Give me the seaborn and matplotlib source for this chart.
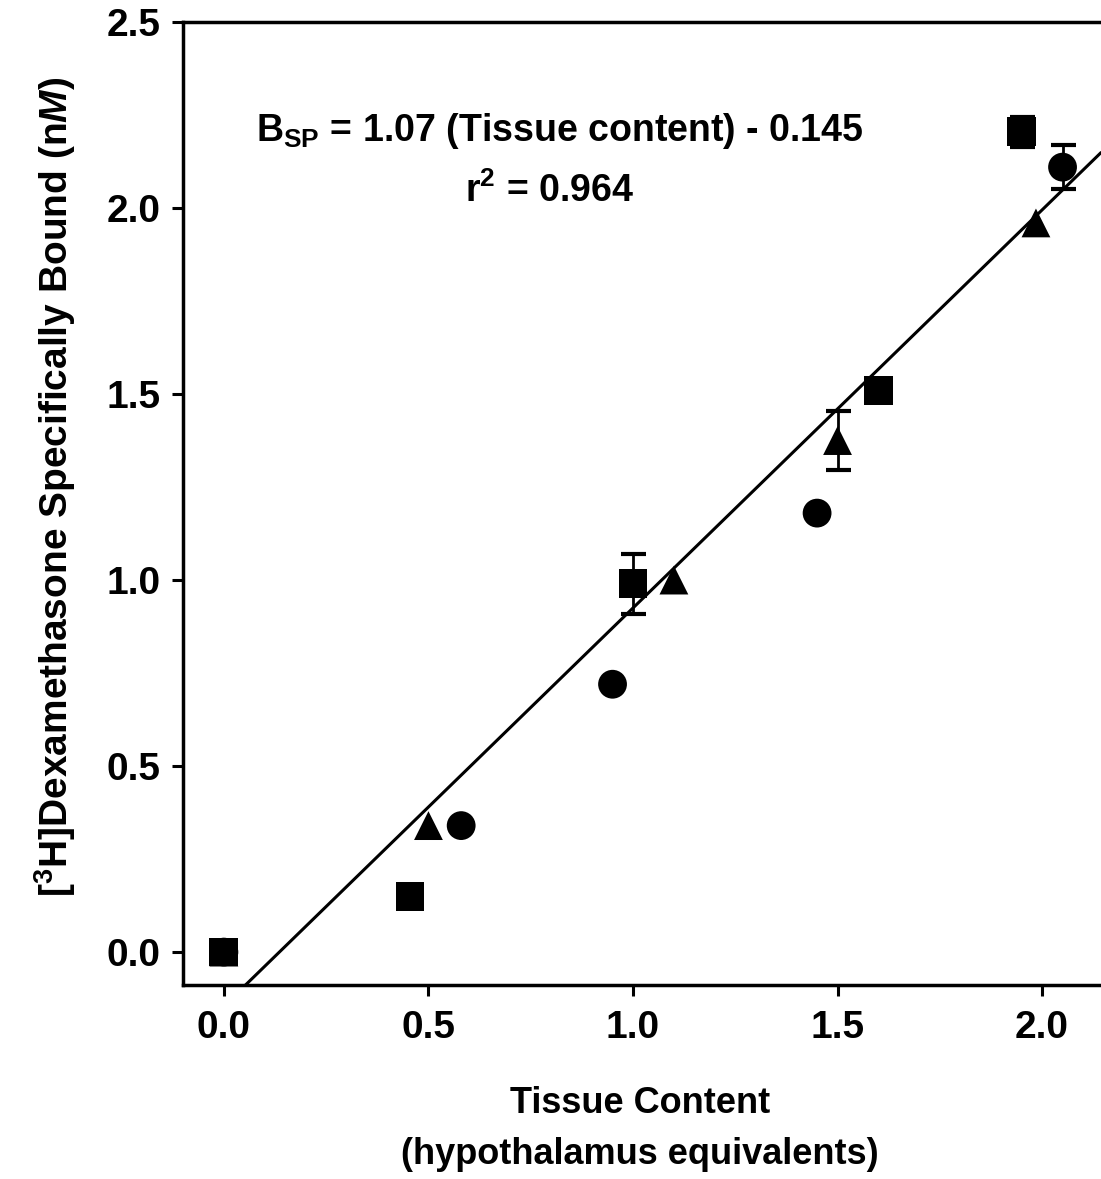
import matplotlib
matplotlib.use("Agg")
import matplotlib.pyplot as plt
import seaborn as sns
import pandas as pd
import numpy as np

# ---- data ----
sq_x = [0.0, 0.455, 1.0, 1.6, 1.95]
sq_y = [0.0, 0.15, 0.99, 1.51, 2.205]
sq_err = [0.0, 0.0, 0.08, 0.0, 0.04]

ci_x = [0.0, 0.58, 0.95, 1.45, 2.05]
ci_y = [0.0, 0.34, 0.72, 1.18, 2.11]
ci_err = [0.0, 0.0, 0.0, 0.0, 0.06]

tr_x = [0.0, 0.50, 1.10, 1.50, 1.985]
tr_y = [0.0, 0.34, 1.00, 1.375, 1.96]
tr_err = [0.0, 0.0, 0.0, 0.08, 0.0]

slope = 1.07
intercept = -0.145

x_ticks = [0.0, 0.5, 1.0, 1.5, 2.0]
y_ticks = [0.0, 0.5, 1.0, 1.5, 2.0, 2.5]

df = pd.DataFrame({
    "x": sq_x + ci_x + tr_x,
    "y": sq_y + ci_y + tr_y,
    "err": sq_err + ci_err + tr_err,
    "grp": ["sq"] * len(sq_x) + ["ci"] * len(ci_x) + ["tr"] * len(tr_x),
})

sns.set_theme(style="ticks", rc={
    "text.color": "black", "axes.labelcolor": "black",
    "xtick.color": "black", "ytick.color": "black",
    "axes.edgecolor": "black",
})
plt.rcParams["font.family"] = ["Liberation Sans", "DejaVu Sans"]
plt.rcParams["mathtext.fontset"] = "custom"
plt.rcParams["mathtext.rm"] = "Liberation Sans:bold"
plt.rcParams["mathtext.it"] = "Liberation Sans:bold:italic"
plt.rcParams["mathtext.bf"] = "Liberation Sans:bold"

fig = plt.figure(figsize=(11.01, 11.79), dpi=100)
ax = fig.add_axes([0.1662, 0.1645, 1.0 - 0.1662, 0.9813 - 0.1645])

# regression line
ax.axline((0, intercept), slope=slope, color="black", lw=2.2, zorder=2)

# error bars
for g in ["sq", "ci", "tr"]:
    sub = df[(df.grp == g) & (df.err > 0)]
    ax.errorbar(sub.x, sub.y, yerr=sub.err, fmt="none", ecolor="black",
                elinewidth=2, capsize=9, capthick=3, zorder=3)

sns.scatterplot(data=df, x="x", y="y", style="grp",
                markers={"sq": "s", "ci": "o", "tr": "^"},
                color="black", edgecolor="black", linewidth=0,
                s=430, legend=False, ax=ax, zorder=4)

ax.set_xlim(-0.1, 2.144)
ax.set_ylim(-0.0886, 2.5)
ax.set_xticks(x_ticks)
ax.set_xticklabels([f"{v:.1f}" for v in x_ticks], fontweight="bold")
ax.set_yticks(y_ticks)
ax.set_yticklabels([f"{v:.1f}" for v in y_ticks], fontweight="bold")
ax.tick_params(direction="out", length=8, width=2.2, labelsize=28,
               colors="black")
ax.tick_params(axis="x", pad=10)
ax.tick_params(axis="y", pad=8)

for s in ["left", "bottom", "top"]:
    ax.spines[s].set_linewidth(2.5)
    ax.spines[s].set_color("black")
ax.spines["right"].set_visible(False)

ax.set_xlabel("Tissue Content\n(hypothalamus equivalents)", fontsize=26,
              fontweight="bold", linespacing=1.6)
ax.xaxis.set_label_coords((640 - 183) / 918, (985 - 1172) / 963)
ax.xaxis.label.set_va("bottom")
ax.set_ylabel(r"[$^3$H]Dexamethasone Specifically Bound (n$\mathit{M}$)",
              fontsize=28, fontweight="bold")
ax.yaxis.set_label_coords((78 - 183) / 918, (985 - 487) / 963)

ax.text(0.82, 2.207, r"B$_{\mathbf{SP}}$ = 1.07 (Tissue content) - 0.145",
        fontsize=27, fontweight="bold", ha="center", va="center")
ax.text(0.797, 2.046, r"r$^2$ = 0.964", fontsize=27, fontweight="bold",
        ha="center", va="center")

fig.savefig("out.png", dpi=100, facecolor="white")
